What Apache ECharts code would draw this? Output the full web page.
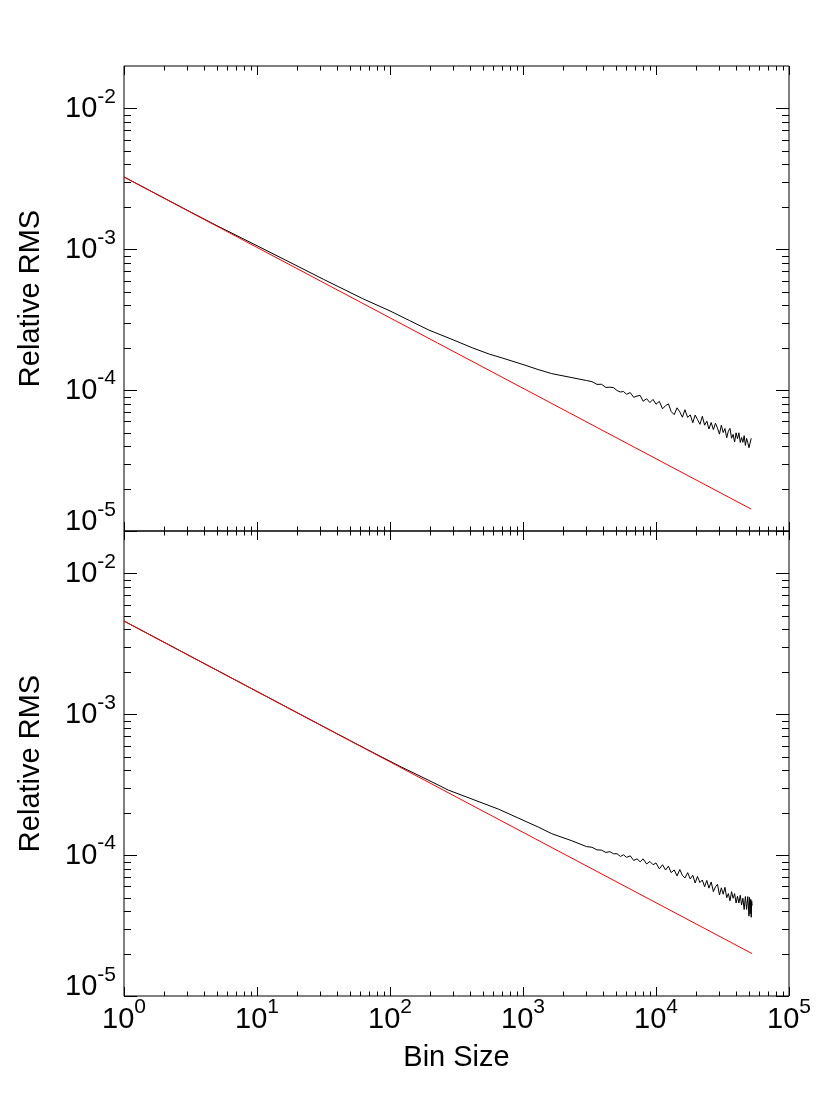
<!DOCTYPE html>
<html>
<head>
<meta charset="utf-8">
<script src="https://cdn.jsdelivr.net/npm/echarts@6/dist/echarts.min.js"></script>
<style>
  html, body { margin: 0; padding: 0; background: #fff; }
  #chart { width: 830px; height: 1107px; }
</style>
</head>
<body>
<div id="chart"></div>
<script>
// top panel, measured curve
var topX = [1, 2, 3.16, 5, 10, 16.5, 31.6, 62, 100, 140, 196, 300, 420, 560, 700, 1000, 1300, 1644, 2300,
  3000, 3300, 3600, 3900, 4200, 4500, 4800, 5100, 5400, 5700, 6000, 6400, 6800, 7200, 7600,
  8000, 8500, 9000, 9500, 10000, 10600, 11200, 11800, 12400, 13000, 13700, 14400, 15100,
  15800, 16500, 17300, 18100, 18900, 19700, 20500, 21400, 22300, 23200, 24100, 25000, 26000,
  27000, 28000, 29000, 30000, 31000, 32000, 33000, 34000, 35000, 36000, 37000, 38000, 39000,
  40000, 41000, 42000, 43000, 44000, 45000, 46000, 47000, 48000, 49000, 50000, 51000, 52000];
var topY = [3.26e-3, 2.31e-3, 1.84e-3, 1.47e-3, 1.06e-3, 8.35e-4, 6.12e-4, 4.47e-4, 3.65e-4,
  3.12e-4, 2.67e-4, 2.27e-4, 1.99e-4, 1.80e-4, 1.69e-4, 1.52e-4, 1.40e-4, 1.31e-4, 1.23e-4,
  1.170e-4, 1.149e-4, 1.099e-4, 1.100e-4, 1.045e-4, 1.050e-4, 1.041e-4, 9.93e-5, 9.70e-5, 9.78e-5,
  9.34e-5, 9.61e-5, 8.89e-5, 9.08e-5, 9.18e-5, 8.34e-5, 8.69e-5, 8.16e-5, 8.59e-5, 7.94e-5,
  8.32e-5, 7.37e-5, 7.76e-5, 7.99e-5, 7.05e-5, 6.70e-5, 7.49e-5, 7.01e-5, 6.42e-5, 7.26e-5,
  6.40e-5, 6.68e-5, 5.87e-5, 6.66e-5, 6.19e-5, 5.72e-5, 6.52e-5, 5.64e-5, 6.02e-5, 5.30e-5,
  5.89e-5, 5.25e-5, 5.82e-5, 5.37e-5, 4.87e-5, 5.64e-5, 5.00e-5, 5.34e-5, 4.58e-5, 5.12e-5,
  5.35e-5, 4.56e-5, 4.85e-5, 4.28e-5, 4.98e-5, 4.52e-5, 4.98e-5, 4.25e-5, 4.61e-5, 4.26e-5,
  4.75e-5, 4.05e-5, 4.54e-5, 4.24e-5, 3.90e-5, 3.98e-5, 4.55e-5];
// top panel, fit line
var topFitX = [1, 52000];
var topFitY = [3.26e-3, 1.43e-5];

// bottom panel, measured curve
var botX = [1, 3.16, 10, 31.6, 65, 117, 200, 276, 400, 655, 925, 1307, 1644, 2300,
  3000, 3300, 3600, 3900, 4200, 4500, 4800, 5100, 5400, 5700, 6000, 6400, 6800, 7200, 7600,
  8000, 8500, 9000, 9500, 10000, 10600, 11200, 11800, 12400, 13000, 13700, 14400, 15100,
  15800, 16500, 17300, 18100, 18900, 19700, 20500, 21400, 22300, 23200, 24100, 25000, 26000,
  27000, 28000, 29000, 30000, 31000, 32000, 33000, 34000, 35000, 36000, 37000, 38000, 39000,
  40000, 41000, 42000, 43000, 44000, 45000, 46000, 47000, 48000, 49000, 50000, 50500, 51000,
  51500, 52000, 52400, 52800];
var botY = [4.59e-3, 2.58e-3, 1.452e-3, 8.17e-4, 5.72e-4, 4.30e-4, 3.36e-4, 2.89e-4, 2.53e-4,
  2.12e-4, 1.83e-4, 1.58e-4, 1.42e-4, 1.27e-4,
  1.150e-4, 1.137e-4, 1.090e-4, 1.085e-4, 1.045e-4, 1.059e-4, 1.022e-4, 1.023e-4, 9.79e-5, 1.006e-4,
  9.64e-5, 9.88e-5, 9.17e-5, 9.41e-5, 8.97e-5, 9.41e-5, 8.65e-5, 9.02e-5, 8.55e-5, 8.80e-5,
  7.99e-5, 8.55e-5, 7.84e-5, 8.35e-5, 7.52e-5, 7.85e-5, 7.12e-5, 7.90e-5, 7.19e-5, 6.88e-5,
  7.51e-5, 6.77e-5, 7.20e-5, 6.34e-5, 7.06e-5, 6.39e-5, 6.66e-5, 5.97e-5, 6.61e-5, 5.83e-5,
  6.45e-5, 5.51e-5, 5.96e-5, 6.21e-5, 5.21e-5, 5.86e-5, 5.28e-5, 5.91e-5, 4.98e-5, 5.33e-5,
  4.74e-5, 5.51e-5, 4.94e-5, 5.33e-5, 4.57e-5, 5.11e-5, 4.57e-5, 5.19e-5, 4.43e-5, 4.95e-5,
  4.11e-5, 5.08e-5, 4.12e-5, 5.08e-5, 3.69e-5, 5.02e-5, 3.83e-5, 4.87e-5, 3.62e-5, 4.75e-5,
  4.38e-5];
// bottom panel, fit line
var botFitX = [1, 52800];
var botFitY = [4.59e-3, 2.0e-5];

// axes
var xMin = 1, xMax = 1e5;
var yMin = 1e-5, yMax = 0.02;
var xDecades = [1, 10, 100, 1000, 10000, 100000];
var yDecades = [1e-5, 1e-4, 1e-3, 1e-2];
var minorSteps = [2, 3, 4, 5, 6, 7, 8, 9];

function pairs(xs, ys) {
  return xs.map(function (x, i) { return [x, ys[i]]; });
}

function minorOf(decades, max) {
  var out = [];
  decades.forEach(function (d) {
    minorSteps.forEach(function (m) {
      if (d * m < max) out.push(d * m);
    });
  });
  return out;
}
var xMinor = minorOf(xDecades, xMax);
var yMinor = minorOf(yDecades, yMax);

function powLabel(value, low) {
  var lg = Math.log10(value);
  var e = Math.round(lg);
  if (Math.abs(lg - e) > 1e-6) return '';
  return low ? '{bl|10}{sl|' + e + '}' : '{b|10}{s|' + e + '}';
}

var labelFont = 'Liberation Sans, Arial, Helvetica, sans-serif';
// both pieces of a label get the same box height, the superscript sits high
var richY = {
  b: { fontSize: 29, lineHeight: 29, fontFamily: labelFont, color: '#000', padding: [8, 0, 7, 0] },
  s: { fontSize: 21, lineHeight: 21, fontFamily: labelFont, color: '#000', padding: [0, 0, 23, 0] },
  bl: { fontSize: 29, lineHeight: 29, fontFamily: labelFont, color: '#000', padding: [8, 0, 26, 0] },
  sl: { fontSize: 21, lineHeight: 21, fontFamily: labelFont, color: '#000', padding: [0, 0, 42, 0] }
};
var richX = {
  b: { fontSize: 29, lineHeight: 29, fontFamily: labelFont, color: '#000', padding: [8, 0, 0, 0] },
  s: { fontSize: 21, lineHeight: 21, fontFamily: labelFont, color: '#000', padding: [0, 0, 16, 0] }
};

// IDL-like ticks on all four sides of a panel
function tickRender(params, api) {
  var cs = params.coordSys;
  var l = cs.x, r = cs.x + cs.width, t = cs.y, b = cs.y + cs.height;
  var kids = [];
  var st = { stroke: '#000', lineWidth: 1 };
  function vx(v, len) {
    var px = Math.round(api.coord([v, yMin])[0]) + 0.5;
    kids.push({ type: 'line', shape: { x1: px, y1: b, x2: px, y2: b - len }, style: st });
    kids.push({ type: 'line', shape: { x1: px, y1: t, x2: px, y2: t + len }, style: st });
  }
  function hy(v, len) {
    var py = Math.round(api.coord([xMin, v])[1]) + 0.5;
    kids.push({ type: 'line', shape: { x1: l, y1: py, x2: l + len, y2: py }, style: st });
    kids.push({ type: 'line', shape: { x1: r, y1: py, x2: r - len, y2: py }, style: st });
  }
  xDecades.forEach(function (v) { vx(v, 9); });
  xMinor.forEach(function (v) { vx(v, 4.5); });
  yDecades.forEach(function (v) { hy(v, 13); });
  yMinor.forEach(function (v) { hy(v, 7); });
  return { type: 'group', children: kids };
}

function xAxisCfg(idx, showLabels) {
  return {
    type: 'log', gridIndex: idx, min: xMin, max: xMax, logBase: 10,
    axisLine: { show: false }, axisTick: { show: false }, splitLine: { show: false },
    axisLabel: {
      show: showLabels, margin: 5, showMinLabel: true, showMaxLabel: true,
      formatter: function (v) { return powLabel(v, false); }, rich: richX
    },
    name: showLabels ? 'Bin Size' : '', nameLocation: 'middle', nameGap: 47,
    nameTextStyle: { fontSize: 29, fontFamily: labelFont, color: '#000' }
  };
}

function yAxisCfg(idx) {
  return {
    type: 'log', gridIndex: idx, min: yMin, max: yMax, logBase: 10,
    axisLine: { show: false }, axisTick: { show: false }, splitLine: { show: false },
    axisLabel: {
      margin: 8, showMinLabel: true, showMaxLabel: true,
      formatter: function (v) { return powLabel(v, Math.abs(v - yMin) < 1e-12); }, rich: richY
    },
    name: 'Relative RMS', nameLocation: 'middle', nameGap: 79,
    nameTextStyle: { fontSize: 29, fontFamily: labelFont, color: '#000' }
  };
}

var dom = document.getElementById('chart');
var myChart = echarts.init(dom, null, { renderer: 'canvas' });

var option = {
  animation: false,
  backgroundColor: '#fff',
  grid: [
    { left: 124, top: 66, width: 665, height: 465, show: true, borderColor: '#000', borderWidth: 1, backgroundColor: 'transparent' },
    { left: 124, top: 531, width: 665, height: 465, show: true, borderColor: '#000', borderWidth: 1, backgroundColor: 'transparent' }
  ],
  xAxis: [xAxisCfg(0, false), xAxisCfg(1, true)],
  yAxis: [yAxisCfg(0), yAxisCfg(1)],
  series: [
    { type: 'line', xAxisIndex: 0, yAxisIndex: 0, data: pairs(topX, topY), showSymbol: false,
      lineStyle: { color: '#000', width: 1 }, z: 2 },
    { type: 'line', xAxisIndex: 0, yAxisIndex: 0, data: pairs(topFitX, topFitY), showSymbol: false,
      lineStyle: { color: '#ff0000', width: 1 }, z: 3 },
    { type: 'line', xAxisIndex: 1, yAxisIndex: 1, data: pairs(botX, botY), showSymbol: false,
      lineStyle: { color: '#000', width: 1 }, z: 2 },
    { type: 'line', xAxisIndex: 1, yAxisIndex: 1, data: pairs(botFitX, botFitY), showSymbol: false,
      lineStyle: { color: '#ff0000', width: 1 }, z: 3 },
    { type: 'custom', xAxisIndex: 0, yAxisIndex: 0, data: [[xMin, yMin]], renderItem: tickRender, silent: true, z: 4 },
    { type: 'custom', xAxisIndex: 1, yAxisIndex: 1, data: [[xMin, yMin]], renderItem: tickRender, silent: true, z: 4 }
  ]
};

myChart.setOption(option);
</script>
</body>
</html>
